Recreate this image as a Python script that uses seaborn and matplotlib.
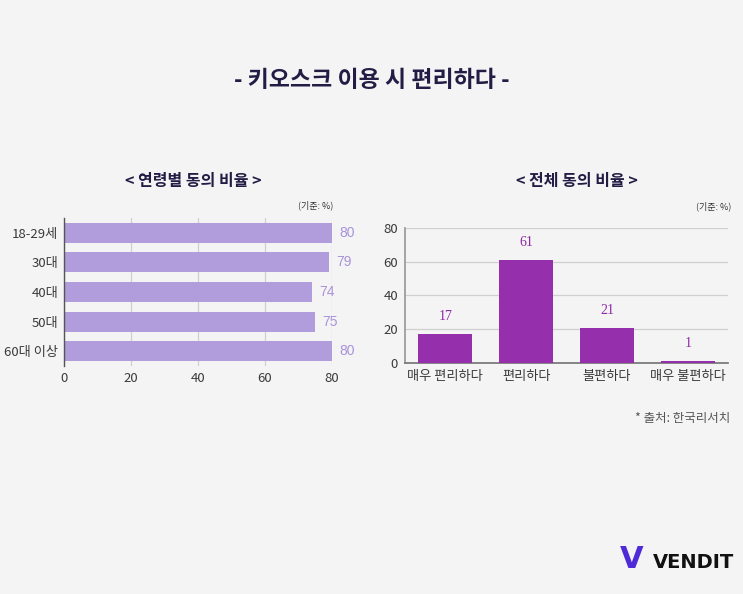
import numpy as np
import pandas as pd
import matplotlib.pyplot as plt
import seaborn as sns

# 연령별 동의 비율
age_groups = ['18-29세', '30대', '40대', '50대', '60대 이상']
age_values = [80, 79, 74, 75, 80]

# 전체 동의 비율
answers = ['매우 편리하다', '편리하다', '불편하다', '매우 불편하다']
answer_values = [17, 61, 21, 1]

sns.set_theme(style='white')
plt.rcParams['font.family'] = ['Noto Sans CJK KR', 'DejaVu Sans']

bg = '#f4f4f4'
fig = plt.figure(figsize=(7.43, 5.94), dpi=100, facecolor=bg)

fig.text(0.5, 0.865, '- 키오스크 이용 시 편리하다 -', ha='center', va='center',
         fontsize=16.5, fontweight='bold', color='#231c45')

# ---- 왼쪽: 연령별 ----
ax1 = fig.add_axes([0.0861, 0.3838, 0.3607, 0.2492])
ax1.set_facecolor('none')
df_age = pd.DataFrame({'age': age_groups, 'val': age_values})
sns.barplot(data=df_age, x='val', y='age', orient='h', color='#b19ddb',
            saturation=1, width=0.68, linewidth=0, ax=ax1)
ax1.set_xlim(0, 80)
ax1.set_ylim(4.5, -0.5)
ax1.set_xticks([0, 20, 40, 60, 80])
ax1.xaxis.grid(True, color='#cfcfcf', linewidth=0.9)
ax1.set_axisbelow(True)
for s in ['top', 'right', 'bottom']:
    ax1.spines[s].set_visible(False)
ax1.spines['left'].set_color('#555555')
ax1.spines['left'].set_linewidth(1.0)
ax1.tick_params(length=0, labelsize=9.5, colors='#3a3a3a', pad=4)
ax1.set_xlabel('')
ax1.set_ylabel('')
for i, v in enumerate(age_values):
    ax1.text(v + 2.2, i, str(v), va='center', ha='left', fontsize=10,
             color='#a993da', family=['Liberation Sans', 'DejaVu Sans'])
fig.text(0.26, 0.695, '< 연령별 동의 비율 >', ha='center', va='center',
         fontsize=11.5, fontweight='bold', color='#231c45')
fig.text(0.449, 0.655, '(기준: %)', ha='right', va='center', fontsize=6.5, color='#333333')

# ---- 오른쪽: 전체 ----
ax2 = fig.add_axes([0.545, 0.3889, 0.435, 0.2273])
ax2.set_facecolor('none')
df_ans = pd.DataFrame({'ans': answers, 'val': answer_values})
sns.barplot(data=df_ans, x='ans', y='val', color='#962fab', saturation=1,
            width=0.67, linewidth=0, ax=ax2)
for p in ax2.patches:
    p.set_zorder(3)
ax2.set_ylim(0, 80)
ax2.set_xlim(-0.5, 3.5)
ax2.set_yticks([0, 20, 40, 60, 80])
ax2.yaxis.grid(True, color='#cfcfcf', linewidth=0.9)
ax2.set_axisbelow(True)
for s in ['top', 'right']:
    ax2.spines[s].set_visible(False)
ax2.spines['left'].set_color('#9a9a9a')
ax2.spines['bottom'].set_color('#777777')
ax2.tick_params(length=0, labelsize=9.5, colors='#3a3a3a', pad=5)
ax2.set_xlabel('')
ax2.set_ylabel('')
for i, v in enumerate(answer_values):
    ax2.text(i, v + 6.5, str(v), ha='center', va='bottom', fontsize=10,
             color='#8e2aa6', family=['Liberation Serif', 'DejaVu Serif'])
fig.text(0.777, 0.695, '< 전체 동의 비율 >', ha='center', va='center',
         fontsize=11.5, fontweight='bold', color='#231c45')
fig.text(0.985, 0.653, '(기준: %)', ha='right', va='center', fontsize=6.5, color='#333333')

fig.text(0.983, 0.296, '* 출처: 한국리서치', ha='right', va='center', fontsize=9, color='#555555')

# 로고
fig.text(0.834, 0.033, 'V', ha='left', va='bottom', fontsize=22, fontweight='heavy',
         color='#4f2bd8', family=['DejaVu Sans'])
fig.text(0.879, 0.037, 'VENDIT', ha='left', va='bottom', fontsize=14, fontweight='heavy',
         color='#111111', family=['DejaVu Sans'])

fig.savefig('out.png', dpi=100, facecolor=bg)
